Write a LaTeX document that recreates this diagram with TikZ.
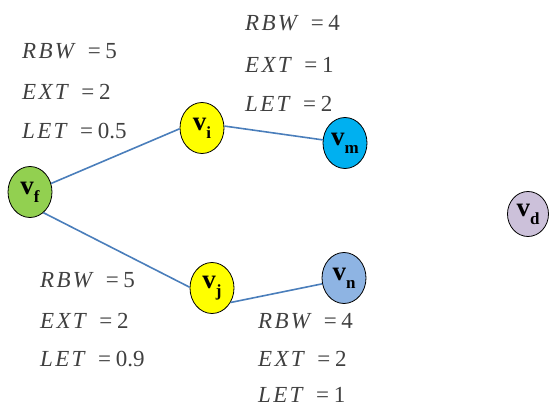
\documentclass[tikz,border=0pt]{standalone}
\usepackage{fontspec}
\setmainfont{Liberation Serif}
\newfontfamily\lsfont[LetterSpace=10]{Liberation Serif}
\usetikzlibrary{shapes.geometric}
\definecolor{edgeblue}{HTML}{4A7EBB}
\definecolor{txtgray}{HTML}{404040}
\definecolor{cgreen}{HTML}{92D050}
\definecolor{cyellow}{HTML}{FFFF00}
\definecolor{ccyan}{HTML}{00B0F0}
\definecolor{cblue}{HTML}{8EB4E3}
\definecolor{clav}{HTML}{CCC1DA}
\newcommand{\vlab}[1]{\fontsize{27}{27}\selectfont\bfseries v\raisebox{-0.3em}{\fontsize{17}{17}\selectfont #1}}
\newcommand{\ptxt}[2]{{\lsfont\itshape #1}\hspace{0.6em}=\hspace{0.2em}#2}
\tikzset{
  vnode/.style={ellipse, draw=black, line width=0.8pt, minimum width=44pt, minimum height=51pt, inner sep=0pt},
  edge/.style={draw=edgeblue, line width=1.6pt},
  param/.style={anchor=west, inner sep=0pt, text=txtgray, font=\fontsize{23}{23}\selectfont}
}
\begin{document}
\begin{tikzpicture}[x=1pt,y=-1pt]
\useasboundingbox (0,0) rectangle (550,409);
% nodes
\node[vnode, fill=cgreen] (vf) at (30,192) {\vlab{f}};
\node[vnode, fill=cyellow] (vi) at (202,128) {\vlab{i}};
\node[vnode, fill=ccyan] (vm) at (345,143) {\vlab{m}};
\node[vnode, fill=cyellow] (vj) at (212,288) {\vlab{j}};
\node[vnode, fill=cblue] (vn) at (344,278) {\vlab{n}};
\node[vnode, fill=clav, minimum width=41pt, minimum height=45pt] (vd) at (528,214) {\vlab{d}};
% edges
\draw[edge] (vf.22) -- (vi.182);
\draw[edge] (vi.5) -- (vm.172);
\draw[edge] (vf.-57) -- (vj.178);
\draw[edge] (vj.-38) -- (vn.195);
% parameter labels
\node[param] (a1) at (22,51) {\ptxt{RBW}{5}};
\node[param] (a2) at (22,92) {\ptxt{EXT}{2}};
\node[param] (a3) at (22,131) {\ptxt{LET}{0.5}};
\node[param] (b1) at (245,23) {\ptxt{RBW}{4}};
\node[param] (b2) at (245,65) {\ptxt{EXT}{1}};
\node[param] (b3) at (245,104) {\ptxt{LET}{2}};
\node[param] (c1) at (40,280) {\ptxt{RBW}{5}};
\node[param] (c2) at (40,321) {\ptxt{EXT}{2}};
\node[param] (c3) at (40,359) {\ptxt{LET}{0.9}};
\node[param] (d1) at (258,321) {\ptxt{RBW}{4}};
\node[param] (d2) at (258,359) {\ptxt{EXT}{2}};
\node[param] (d3) at (258,395) {\ptxt{LET}{1}};
\end{tikzpicture}
\end{document}
